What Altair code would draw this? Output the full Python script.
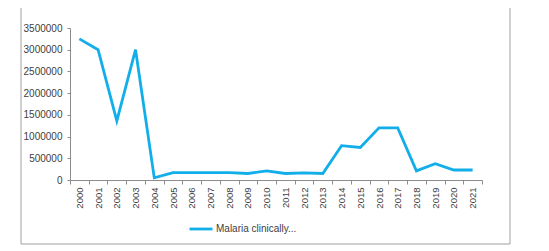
import altair as alt
import pandas as pd

years = [str(y) for y in range(2000, 2022)]
values = [3250000, 3000000, 1360000, 3000000, 50000, 170000, 170000, 170000,
          170000, 150000, 210000, 150000, 165000, 150000, 790000, 750000,
          1200000, 1200000, 210000, 375000, 230000, 230000]
series_name = "Malaria clinically..."
y_ticks = [0, 500000, 1000000, 1500000, 2000000, 2500000, 3000000, 3500000]

df = pd.DataFrame({"year": years, "value": values, "series": [series_name] * len(years)})

FONT = "Liberation Sans"
TXT = "#404040"
AX = "#8c8c8c"

line = alt.Chart(df).mark_line(strokeWidth=2.8).encode(
    x=alt.X("year:O", sort=years,
            scale=alt.Scale(type="band", paddingInner=0, paddingOuter=0),
            axis=alt.Axis(title=None, labelAngle=270, tickBand="extent",
                          labelFont=FONT, labelFontSize=9.5, labelColor=TXT,
                          domainColor=AX, tickColor=AX, tickSize=4,
                          labelPadding=3, grid=False)),
    y=alt.Y("value:Q", scale=alt.Scale(domain=[0, 3500000], nice=False),
            axis=alt.Axis(title=None, values=y_ticks, format="d",
                          labelFont=FONT, labelFontSize=10, labelColor=TXT,
                          domainColor=AX, tickColor=AX, tickSize=3,
                          labelPadding=5, grid=False)),
    color=alt.Color("series:N", scale=alt.Scale(range=["#12AEEA"]),
                    legend=alt.Legend(title=None, orient="none", legendX=118, legendY=188,
                                      symbolType="stroke", symbolStrokeWidth=2.8,
                                      symbolSize=530, labelFont=FONT, labelFontSize=10,
                                      labelColor=TXT, labelOffset=2)),
)

frame = alt.Chart(df).mark_rect(filled=False, stroke="#a0a0a0", strokeWidth=1).encode(
    x=alt.value(-49), x2=alt.value(440), y=alt.value(-22), y2=alt.value(216)
).transform_filter(alt.datum.year == "2000")

chart = alt.layer(frame, line).properties(
    width=412, height=152,
    autosize=alt.AutoSizeParams(type="none"),
    padding={"left": 62, "top": 20, "right": 45, "bottom": 71},
).configure_view(stroke=None)

chart.save("out.html", embed_options={"renderer": "svg", "actions": False})
